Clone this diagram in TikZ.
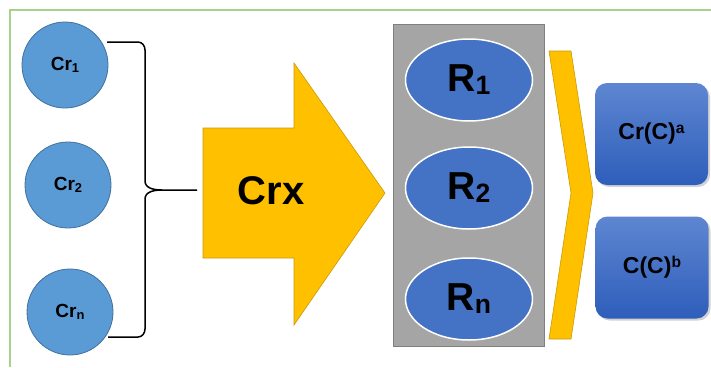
\documentclass[tikz,border=0pt]{standalone}
\usepackage{fontspec}
\setmainfont{Liberation Sans}
\usetikzlibrary{shapes.geometric,positioning,shadows}
\definecolor{framegreen}{HTML}{A9D18E}
\definecolor{crblue}{HTML}{5B9BD5}
\definecolor{crborder}{HTML}{41719C}
\definecolor{crxyellow}{HTML}{FFC000}
\definecolor{crxedge}{HTML}{C99A06}
\definecolor{rgray}{HTML}{A5A5A5}
\definecolor{rgrayedge}{HTML}{7F7F7F}
\definecolor{rblue}{HTML}{4472C4}
\definecolor{boxtop}{HTML}{5E86D1}
\definecolor{boxbot}{HTML}{2E5EBB}
\newcommand{\lowidx}[2][0.1em]{\raisebox{-#1}{\scalebox{0.68}{#2}}}
\newcommand{\highidx}[1]{\raisebox{0.26em}{\scalebox{0.68}{#1}}}

\begin{document}
\begin{tikzpicture}[x=1pt, y=-1pt,
    crnode/.style={circle, draw=crborder, fill=crblue, line width=0.8pt, minimum size=86pt, inner sep=0pt, font=\fontsize{19}{22}\selectfont\bfseries},
    rnode/.style={ellipse, draw=white, fill=rblue, line width=1.5pt, minimum width=127pt, minimum height=82pt, inner sep=0pt, font=\fontsize{39}{44}\selectfont\bfseries},
    outbox/.style={rectangle, rounded corners=12pt, minimum width=113pt, minimum height=102pt, top color=boxtop, bottom color=boxbot, drop shadow={opacity=0.35, shadow xshift=2pt, shadow yshift=-2pt}, font=\fontsize{23}{27}\selectfont\bfseries},
    yellowshape/.style={fill=crxyellow, draw=crxedge, line width=0.6pt},
    brace/.style={draw=black, line width=1.5pt}]
    \useasboundingbox (0,0) rectangle (711,367);

    % Frame
    \draw[framegreen, line width=1.5pt] (10,367) -- (10,10) -- (711,10);

    % Inputs
    \node[crnode] (cr1) at (65,65) {Cr\lowidx[0.14em]{1}};
    \node[crnode] (cr2) at (68,185) {Cr\lowidx[0.14em]{2}};
    \node[crnode] (crn) at (70,312) {Cr\lowidx[0.14em]{n}};

    % Brace
    \coordinate (brtop) at (107,42);
    \coordinate (brbot) at (108,337);
    \coordinate (brtip) at (197,190);
    \draw[brace] (brtop) -- (138,42) to[out=0,in=90] (145,50) -- (145,181)
        to[out=-90,in=180] (162,190) -- (brtip);
    \draw[brace] (162,190) to[out=180,in=90] (145,199) -- (145,329)
        to[out=-90,in=0] (138,337) -- (brbot);

    % Crx arrow
    \draw[yellowshape] (203,128) -- (294,128) -- (294,63) -- (385,193)
        -- (294,325) -- (294,258) -- (203,258) -- cycle;
    \node[font=\fontsize{40}{46}\selectfont\bfseries] (crx) at (271,191) {Crx};

    % Reactions
    \node[rectangle, draw=rgrayedge, fill=rgray, line width=0.8pt, minimum width=151pt, minimum height=322pt] (rbox) at (468.5,185) {};
    \node[rnode] (r1) at (469,80) {R\lowidx[0.08em]{1}};
    \node[rnode] (r2) at (469,188) {R\lowidx[0.08em]{2}};
    \node[rnode] (rn) at (469,299) {R\lowidx[0.08em]{n}};

    % Chevron
    \draw[yellowshape] (549,51) -- (571,51) -- (593,193) -- (571,339)
        -- (549,339) -- (571,193) -- cycle;

    % Outputs
    \node[outbox] (cra) at (651.5,134) {Cr(C)\highidx{a}};
    \node[outbox] (cb) at (652,267.5) {C(C)\highidx{b}};
\end{tikzpicture}
\end{document}
